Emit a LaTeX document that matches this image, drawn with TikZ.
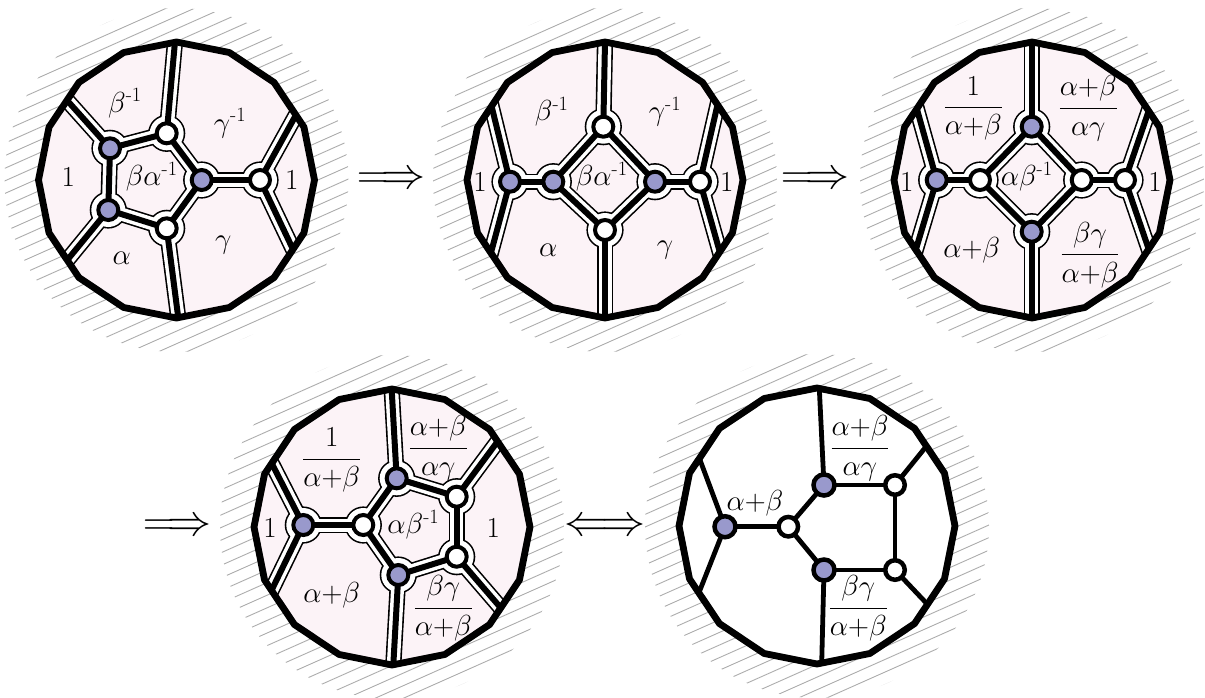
\RequirePackage{fix-cm}
\documentclass[tikz,border=0pt]{standalone}
\usepackage{amsmath}
\usetikzlibrary{calc}
\definecolor{facepink}{RGB}{252,243,247}
\definecolor{vblue}{RGB}{153,153,204}
\definecolor{hatchgray}{RGB}{172,172,172}
\newcommand\Rpoly{138}
\newcommand\polyg[1]{($(#1)+(90:\Rpoly)$) \foreach \k in {1,...,15}{ -- ($(#1)+(90+22.5*\k:\Rpoly)$)} -- cycle}
\newcommand\hatchdisk[1]{%
  \begin{scope}
    \clip (#1) circle[radius=172];
    \foreach \k in {-16,...,16}
      \draw[hatchline] ($(#1)+(\k*4.68,\k*10.51)+(-182.8,81.4)$) -- ++(365.6,-162.8);
  \end{scope}}
% #1 centre, #2 inner edges, #3 boundary edges, #4 vertices
\newcommand\halodisk[4]{%
  \begin{scope}
    \clip \polyg{#1};
    \fill[facepink] \polyg{#1};
    \foreach \a/\b in {#2} \draw[eout] (\a) -- (\b);
    \foreach \a/\b in {#3} \draw[eout,ext] (\a) -- (\b);
    \foreach \v in {#4} \fill[black] (\v) circle[radius=18.6];
    \foreach \a/\b in {#2} \draw[ewhite] (\a) -- (\b);
    \foreach \a/\b in {#3} \draw[ewhite,ext] (\a) -- (\b);
    \foreach \v in {#4} \fill[white] (\v) circle[radius=17];
    \foreach \a/\b in {#2} \draw[ecore] (\a) -- (\b);
    \foreach \a/\b in {#3} \draw[ecore,ext] (\a) -- (\b);
  \end{scope}
  \draw[rim] \polyg{#1};}
\tikzset{
  hatchline/.style={hatchgray, line width=0.9pt},
  rim/.style={line width=6.8pt, line join=round},
  ext/.style={shorten >=-12pt},
  eout/.style={line width=16.2pt, black, line join=round},
  ewhite/.style={line width=13pt, white, line join=round},
  ecore/.style={line width=6pt, black, line join=round},
  plainedge/.style={line width=4.8pt, black},
  bv/.style={circle, draw=black, fill=vblue, line width=4pt, minimum size=20pt, inner sep=0pt},
  wv/.style={circle, draw=black, fill=white, line width=4pt, minimum size=20pt, inner sep=0pt},
  bvb/.style={bv, line width=4.5pt, minimum size=21pt},
  wvb/.style={wv, line width=4.5pt, minimum size=19.5pt},
  lab/.style={font=\fontsize{29}{34}\selectfont, inner sep=0pt},
  arr/.style={font=\fontsize{44}{50}\selectfont, inner sep=0pt},
}
\begin{document}
\begin{tikzpicture}[x=1pt,y=-1pt]
\useasboundingbox (0,0) rectangle (1205,697);
% centres
\coordinate (c1) at (176.5,180);
\coordinate (c2) at (605,180);
\coordinate (c3) at (1032,180);
\coordinate (c4) at (392,527);
\coordinate (c5) at (817,526);
\foreach \c in {c1,c2,c3,c4,c5} \hatchdisk{\c};

% ---------- disk 1
\coordinate (aTL) at (110,148.3);
\coordinate (aBL) at (108.3,210);
\coordinate (aT) at (166.7,133.3);
\coordinate (aB) at (166.7,228.3);
\coordinate (aR1) at (201.7,180);
\coordinate (aR2) at (260,180);
\coordinate (aTLx) at (68.3,101.7);
\coordinate (aTx) at (175,41.7);
\coordinate (aR2u) at (295,116.7);
\coordinate (aR2d) at (293.3,250);
\coordinate (aBx) at (178.3,318);
\coordinate (aBLx) at (70,256.7);
\halodisk{c1}{aTL/aBL,aTL/aT,aT/aR1,aR1/aB,aB/aBL,aR1/aR2}{aTL/aTLx,aT/aTx,aR2/aR2u,aR2/aR2d,aB/aBx,aBL/aBLx}{aTL,aBL,aT,aB,aR1,aR2}
\node[bv] (naTL) at (aTL) {};
\node[bv] (naBL) at (aBL) {};
\node[wv] (naT) at (aT) {};
\node[wv] (naB) at (aB) {};
\node[bv] (naR1) at (aR1) {};
\node[wv] (naR2) at (aR2) {};
\node[lab] (la1) at (125,103.3) {$\beta^{\text{-}1}$};
\node[lab] (la2) at (230,123.3) {$\gamma^{\text{-}1}$};
\node[lab] (la3) at (68.3,176.7) {$1$};
\node[lab] (la4) at (151.7,176.7) {$\beta\alpha^{\text{-}1}$};
\node[lab] (la5) at (291.7,180) {$1$};
\node[lab] (la6) at (121.7,258.3) {$\alpha$};
\node[lab] (la7) at (223.3,245) {$\gamma$};

% ---------- disk 2
\coordinate (bL1) at (510,181.7);
\coordinate (bL2) at (553.3,181.7);
\coordinate (bT) at (603.3,126.7);
\coordinate (bB) at (605,230);
\coordinate (bR1) at (655,181.7);
\coordinate (bR2) at (700,181.7);
\coordinate (bL1u) at (491.7,106.7);
\coordinate (bL1d) at (491.7,250);
\coordinate (bTx) at (605,41.7);
\coordinate (bBx) at (605,316.7);
\coordinate (bR2u) at (716.7,108.3);
\coordinate (bR2d) at (718.3,246.7);
\halodisk{c2}{bL1/bL2,bL2/bT,bL2/bB,bT/bR1,bB/bR1,bR1/bR2}{bL1/bL1u,bL1/bL1d,bT/bTx,bB/bBx,bR2/bR2u,bR2/bR2d}{bL1,bL2,bT,bB,bR1,bR2}
\node[bv] (nbL1) at (bL1) {};
\node[bv] (nbL2) at (bL2) {};
\node[wv] (nbT) at (bT) {};
\node[wv] (nbB) at (bB) {};
\node[bv] (nbR1) at (bR1) {};
\node[wv] (nbR2) at (bR2) {};
\node[lab] (lb1) at (551.7,111.7) {$\beta^{\text{-}1}$};
\node[lab] (lb2) at (665,111.7) {$\gamma^{\text{-}1}$};
\node[lab] (lb3) at (480,181.7) {$1$};
\node[lab] (lb4) at (601.7,176.7) {$\beta\alpha^{\text{-}1}$};
\node[lab] (lb5) at (726.7,181.7) {$1$};
\node[lab] (lb6) at (548.3,250) {$\alpha$};
\node[lab] (lb7) at (665,250) {$\gamma$};

% ---------- disk 3
\coordinate (cL1) at (936.7,180);
\coordinate (cL2) at (980,180);
\coordinate (cT) at (1031.7,126.7);
\coordinate (cB) at (1031.7,231.7);
\coordinate (cR1) at (1081.7,180);
\coordinate (cR2) at (1125,180);
\coordinate (cL1u) at (916.7,108.3);
\coordinate (cL1d) at (916.7,246.7);
\coordinate (cTx) at (1031.7,40.7);
\coordinate (cBx) at (1031.7,318.3);
\coordinate (cR2u) at (1146.7,116.7);
\coordinate (cR2d) at (1146.7,243.3);
\halodisk{c3}{cL1/cL2,cL2/cT,cL2/cB,cT/cR1,cB/cR1,cR1/cR2}{cL1/cL1u,cL1/cL1d,cT/cTx,cB/cBx,cR2/cR2u,cR2/cR2d}{cL1,cL2,cT,cB,cR1,cR2}
\node[bv] (ncL1) at (cL1) {};
\node[wv] (ncL2) at (cL2) {};
\node[bv] (ncT) at (cT) {};
\node[bv] (ncB) at (cB) {};
\node[wv] (ncR1) at (cR1) {};
\node[wv] (ncR2) at (cR2) {};
\node[lab] (lc1) at (973.3,108.3) {$\dfrac{1}{\alpha{+}\beta}$};
\node[lab] (lc2) at (1088.3,108.3) {$\dfrac{\alpha{+}\beta}{\alpha\gamma}$};
\node[lab] (lc3) at (906.7,181.7) {$1$};
\node[lab] (lc4) at (1026.7,176.7) {$\alpha\beta^{\text{-}1}$};
\node[lab] (lc5) at (1155,181.7) {$1$};
\node[lab] (lc6) at (971.7,250) {$\alpha{+}\beta$};
\node[lab] (lc7) at (1090,255) {$\dfrac{\beta\gamma}{\alpha{+}\beta}$};

% ---------- disk 4
\coordinate (dL1) at (303.3,525);
\coordinate (dL2) at (363.3,525);
\coordinate (dT) at (396.7,478.3);
\coordinate (dB) at (398.3,575);
\coordinate (dRt) at (456.7,496.7);
\coordinate (dRb) at (456.7,556.7);
\coordinate (dL1u) at (271.7,463.3);
\coordinate (dL1d) at (273.3,586.7);
\coordinate (dTx) at (391.7,390);
\coordinate (dBx) at (393.3,665);
\coordinate (dRtu) at (495,445);
\coordinate (dRbd) at (498.3,605);
\halodisk{c4}{dL1/dL2,dL2/dT,dL2/dB,dT/dRt,dB/dRb,dRt/dRb}{dL1/dL1u,dL1/dL1d,dT/dTx,dB/dBx,dRt/dRtu,dRb/dRbd}{dL1,dL2,dT,dB,dRt,dRb}
\node[bv] (ndL1) at (dL1) {};
\node[wv] (ndL2) at (dL2) {};
\node[bv] (ndT) at (dT) {};
\node[bv] (ndB) at (dB) {};
\node[wv] (ndRt) at (dRt) {};
\node[wv] (ndRb) at (dRb) {};
\node[lab] (ld1) at (331.7,460) {$\dfrac{1}{\alpha{+}\beta}$};
\node[lab] (ld2) at (438.3,448.3) {$\dfrac{\alpha{+}\beta}{\alpha\gamma}$};
\node[lab] (ld3) at (270,528.3) {$1$};
\node[lab] (ld4) at (413.3,525) {$\alpha\beta^{\text{-}1}$};
\node[lab] (ld5) at (493.3,528.3) {$1$};
\node[lab] (ld6) at (331.7,595) {$\alpha{+}\beta$};
\node[lab] (ld7) at (443.3,608.3) {$\dfrac{\beta\gamma}{\alpha{+}\beta}$};

% ---------- disk 5
\coordinate (eL1) at (725,526.7);
\coordinate (eL2) at (788.3,526.7);
\coordinate (eT) at (824,485);
\coordinate (eB) at (824,570);
\coordinate (eRt) at (895,485);
\coordinate (eRb) at (895,570);
\coordinate (eL1u) at (700,460);
\coordinate (eL1d) at (700,590);
\coordinate (eTx) at (819.3,388.3);
\coordinate (eBx) at (821.7,663.3);
\coordinate (eRtu) at (923.3,450);
\coordinate (eRbd) at (925,601.7);
\begin{scope}
  \clip \polyg{c5};
  \fill[white] \polyg{c5};
  \foreach \a/\b in {eL1/eL2,eL2/eT,eL2/eB,eT/eRt,eB/eRb,eRt/eRb} \draw[plainedge] (\a) -- (\b);
  \foreach \a/\b in {eL1/eL1u,eL1/eL1d,eT/eTx,eB/eBx,eRt/eRtu,eRb/eRbd} \draw[plainedge,ext] (\a) -- (\b);
\end{scope}
\draw[rim] \polyg{c5};
\node[bvb] (neL1) at (eL1) {};
\node[wvb] (neL2) at (eL2) {};
\node[bvb] (neT) at (eT) {};
\node[bvb] (neB) at (eB) {};
\node[wvb] (neRt) at (eRt) {};
\node[wvb] (neRb) at (eRb) {};
\node[lab] (le1) at (755,503.3) {$\alpha{+}\beta$};
\node[lab] (le2) at (860,448.3) {$\dfrac{\alpha{+}\beta}{\alpha\gamma}$};
\node[lab] (le3) at (858.3,608.3) {$\dfrac{\beta\gamma}{\alpha{+}\beta}$};

% ---------- arrows
\node[arr] (ar1) at (391,180) {$\Longrightarrow$};
\node[arr] (ar2) at (815,180) {$\Longrightarrow$};
\node[arr] (ar3) at (177,527) {$\Longrightarrow$};
\node[arr] (ar4) at (605,527) {$\Longleftrightarrow$};
\end{tikzpicture}
\end{document}
